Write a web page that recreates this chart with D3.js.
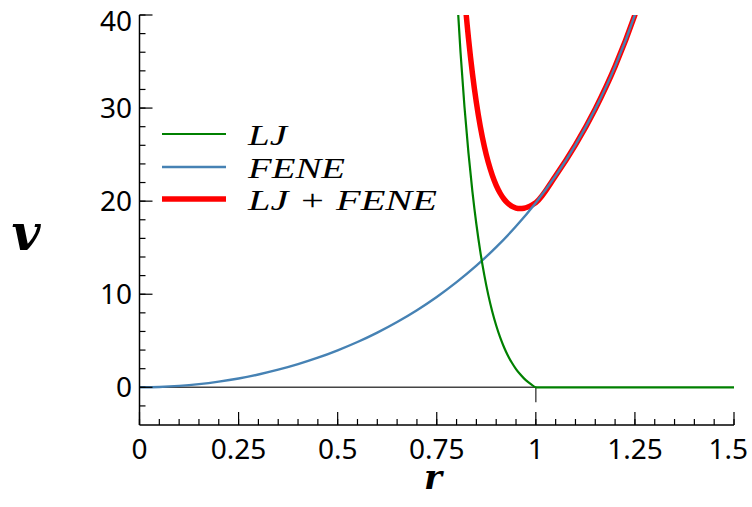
<!DOCTYPE html>
<html><head><meta charset="utf-8">
<script src="https://cdn.jsdelivr.net/npm/d3@7"></script>
<style>body{margin:0;background:#fff;} svg{display:block;}</style>
</head><body>
<svg id="c" width="752" height="507"></svg>
<script>
// ---- data ----
const xTicks = [0, 0.25, 0.5, 0.75, 1, 1.25, 1.5];
const xTickLabels = ["0", "0.25", "0.5", "0.75", "1", "1.25", "1.5"];
const yTicks = [0, 10, 20, 30, 40];
const yTickLabels = ["0", "10", "20", "30", "40"];

const feneR = [0, 0.05, 0.1, 0.15, 0.2, 0.25, 0.3, 0.35, 0.4, 0.45, 0.5, 0.55, 0.6, 0.65, 0.7, 0.75, 0.8, 0.85, 0.9, 0.95, 1.0, 1.05, 1.1, 1.15, 1.2, 1.25, 1.27];
const feneV = [0, 0.04, 0.15, 0.34, 0.61, 0.95, 1.38, 1.89, 2.49, 3.18, 3.98, 4.87, 5.88, 7.02, 8.29, 9.71, 11.30, 13.07, 15.06, 17.30, 19.84, 22.73, 26.05, 29.91, 34.48, 40.02, 42.58];

const ljR = [0.80, 0.81, 0.82, 0.83, 0.84, 0.85, 0.86, 0.87, 0.88, 0.89, 0.90, 0.91, 0.92, 0.93, 0.94, 0.95, 0.96, 0.97, 0.98, 0.99, 1.0, 1.5];
const ljV = [42.95, 35.98, 30.12, 25.19, 21.03, 17.52, 14.55, 12.05, 9.93, 8.15, 6.64, 5.36, 4.28, 3.37, 2.61, 1.96, 1.42, 0.96, 0.58, 0.26, 0, 0];

const sumR = [0.81, 0.82, 0.83, 0.84, 0.85, 0.86, 0.87, 0.88, 0.89, 0.90, 0.91, 0.92, 0.93, 0.94, 0.95, 0.96, 0.97, 0.98, 0.99, 1.0, 1.05, 1.1, 1.15, 1.2, 1.25, 1.27];
const sumV = [47.62, 42.10, 37.53, 33.73, 30.59, 28.00, 25.89, 24.17, 22.80, 21.70, 20.85, 20.21, 19.75, 19.44, 19.26, 19.20, 19.24, 19.37, 19.57, 19.84, 22.73, 26.05, 29.91, 34.48, 40.02, 42.58];

const zeroLineR = [0, 1, 1];
const zeroLineV = [0, 0, -1.6];

const legendLabels = ["LJ", "FENE", "LJ + FENE"];

// ---- layout ----
const svg = d3.select("#c");
const W = 752;
const L = 139.5, R = 734, T = 15, B = 425;
const x = d3.scaleLinear().domain([0, 1.5]).range([L, R]);
const y = d3.scaleLinear().domain([-4.05, 40]).range([B, T]);

svg.append("defs").append("clipPath").attr("id", "clip")
  .append("rect").attr("x", L).attr("y", T).attr("width", R - L).attr("height", B - T);

const zip = (a, b) => a.map((v, i) => [v, b[i]]);
const line = d3.line().x(d => x(d[0])).y(d => y(d[1])).curve(d3.curveMonotoneX);
const plain = d3.line().x(d => x(d[0])).y(d => y(d[1]));

const g = svg.append("g").attr("clip-path", "url(#clip)");
g.append("path").attr("d", plain(zip(zeroLineR, zeroLineV)))
  .attr("fill", "none").attr("stroke", "#444").attr("stroke-width", 1.4);
g.append("path").attr("d", line(zip(sumR, sumV)))
  .attr("fill", "none").attr("stroke", "#ff0000").attr("stroke-width", 5.5);
g.append("path").attr("d", line(zip(feneR, feneV)))
  .attr("fill", "none").attr("stroke", "#4682b4").attr("stroke-width", 2.4);
g.append("path").attr("d", line(zip(ljR, ljV)))
  .attr("fill", "none").attr("stroke", "#008000").attr("stroke-width", 2.2);

// ---- axes ----
const xMinor = d3.range(0, 31).map(i => i * 0.05);
const yMinor = d3.range(-2, 41, 2);
const ax = svg.append("g");
ax.selectAll(".xm").data(xMinor).join("line")
  .attr("x1", d => x(d)).attr("x2", d => x(d)).attr("y1", B).attr("y2", B - 6)
  .attr("stroke", "#000").attr("stroke-width", 1.2);
ax.selectAll(".xM").data(xTicks).join("line")
  .attr("x1", d => x(d)).attr("x2", d => x(d)).attr("y1", B).attr("y2", B - 13)
  .attr("stroke", "#000").attr("stroke-width", 1.2);
ax.selectAll(".ym").data(yMinor).join("line")
  .attr("y1", d => y(d)).attr("y2", d => y(d)).attr("x1", L).attr("x2", L + 6)
  .attr("stroke", "#000").attr("stroke-width", 1.2);
ax.selectAll(".yM").data(yTicks).join("line")
  .attr("y1", d => y(d)).attr("y2", d => y(d)).attr("x1", L).attr("x2", L + 13)
  .attr("stroke", "#000").attr("stroke-width", 1.2);
ax.append("line").attr("x1", L).attr("x2", R).attr("y1", B).attr("y2", B)
  .attr("stroke", "#000").attr("stroke-width", 1.5);
ax.append("line").attr("x1", L).attr("x2", L).attr("y1", T).attr("y2", B)
  .attr("stroke", "#000").attr("stroke-width", 1.5);

const xl = ax.selectAll(".xl").data(xTicks).join("text")
  .attr("x", d => x(d)).attr("y", 459).attr("text-anchor", "middle")
  .attr("font-family", "Noto Sans").attr("font-size", 28).attr("fill", "#000")
  .text((d, i) => xTickLabels[i]);
// keep the last label inside the window, as in the reference
xl.each(function(d) {
  const bb = this.getBBox();
  const over = bb.x + bb.width - (W - 4);
  if (over > 0) d3.select(this).attr("x", x(d) - over);
});
ax.selectAll(".yl").data(yTicks).join("text")
  .attr("x", 132).attr("y", d => Math.max(y(d) + 10, 31)).attr("text-anchor", "end")
  .attr("font-family", "Noto Sans").attr("font-size", 28).attr("fill", "#000")
  .text((d, i) => yTickLabels[i]);

svg.append("text").attr("x", 433).attr("y", 489).attr("text-anchor", "middle")
  .attr("font-family", "DejaVu Serif").attr("font-style", "italic").attr("font-weight", "bold")
  .attr("font-size", 34).text("r");
svg.append("text").attr("x", 26).attr("y", 250).attr("text-anchor", "middle")
  .attr("font-family", "DejaVu Serif").attr("font-style", "italic").attr("font-weight", "bold")
  .attr("font-size", 50).text("v");

// ---- legend ----
const legColors = ["#008000", "#4682b4", "#ff0000"];
const legWidths = [2.2, 2.4, 5.5];
const legY = [134, 167, 199];
const legLen = [39, 97, 189];
const leg = svg.append("g");
legendLabels.forEach((lab, i) => {
  leg.append("line").attr("x1", 162).attr("x2", 226).attr("y1", legY[i]).attr("y2", legY[i])
    .attr("stroke", legColors[i]).attr("stroke-width", legWidths[i]);
  leg.append("text").attr("x", 248).attr("y", legY[i] + 11)
    .attr("font-family", "Liberation Serif").attr("font-style", "italic")
    .attr("font-size", 30).attr("fill", "#000")
    .attr("textLength", legLen[i]).attr("lengthAdjust", "spacingAndGlyphs")
    .text(lab);
});
</script>
</body></html>
